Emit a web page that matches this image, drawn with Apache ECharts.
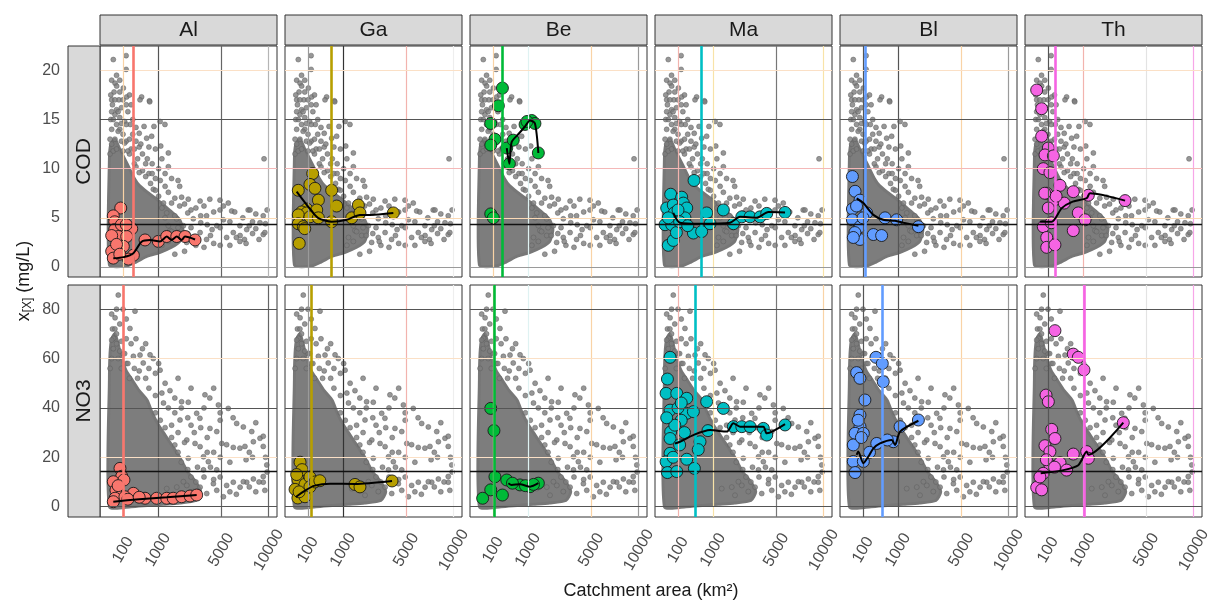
<!DOCTYPE html>
<html><head><meta charset="utf-8">
<script src="https://cdn.jsdelivr.net/npm/echarts@6/dist/echarts.min.js"></script>
<style>html,body{margin:0;padding:0;background:#fff}#c{width:1209px;height:602px}</style>
</head><body><div id="c"></div>
<script>
// ---------------- DATA ----------------
const COLS = ['Al','Ga','Be','Ma','Bl','Th'];
const ROWS = ['COD','NO3'];
const COLORS = ['#F8766D','#B79F00','#00BA38','#00BFC4','#619CFF','#F564E3'];
const X_TICK_AREAS = [100,1000,5000,10000];
const X_TICK_LABELS = ['100','1000','5000','10000'];
const Y_TICKS_COD = [0,5,10,15,20];
const Y_TICKS_NO3 = [0,20,40,60,80];
const REF_COD = 4.35;
const REF_NO3 = 14.4;
const VLINE_COD = [268,605,250,586,125,206];
const VLINE_NO3 = [100,141,117,421,490,1050];

// dense core of the grey background cloud (area km², value)
const core_cod = [[2.6,0.2],[2.6,11],[6.25,12.5],[25,13],[64,12],[121,11],[196,10],[289,9],[400,8.3],[625,7.6],[900,7.0],[1225,6.3],[1600,5.6],[2025,4.8],[2209,3.8],[2025,2.6],[1600,2.0],[1089,1.5],[625,1.1],[324,0.5],[144,0.1]];
const core_no3 = [[2.6,0],[2.6,52],[4,62],[9,68],[25,70],[49,66],[81,60],[144,55],[256,51],[400,47],[625,43],[784,38],[1024,33],[1296,29],[1600,25],[2025,20],[2500,14],[3025,10],[3364,6],[3025,2.5],[2025,1.5],[1225,1],[625,0.5],[225,0]];

// scattered grey background points (area km², value)
const gray_cod = [[16,21.1],[142,21.5],[142,20.1],[9,19.0],[26,18.7],[37,18.4],[104,18.2],[151,17.3],[462,17.3],[692,16.9],[20,17.8],[56,17.0],[12,16.5],[81,16.2],[169,15.8],[25,15.5],[64,15.2],[121,14.8],[6,15.0],[210,14.5],[529,14.3],[847,14.3],[1082,14.8],[1289,14.5],[767,13.3],[605,13.1],[1109,12.3],[1444,11.6],[9428,11.0],[256,13.5],[324,12.8],[400,12.2],[225,12.0],[484,11.5],[625,11.0],[361,11.0],[784,10.5],[1024,10.0],[1296,9.5],[676,9.5],[1600,9.0],[900,9.0],[484,9.8],[324,10.2],[420,17.0],[702,16.8],[2025,8.2],[2530,6.9],[3318,6.7],[4045,6.9],[4886,5.8],[5944,5.7],[7621,5.8],[9332,5.2],[8949,4.5],[9332,3.3],[6757,4.2],[6100,3.5],[5476,3.0],[6757,2.6],[4610,4.2],[3318,3.5],[2852,3.0],[3795,2.8],[2237,4.2],[1858,4.9],[1369,5.5],[2852,4.9],[3795,5.2],[2430,2.5],[1866,3.2],[1521,3.7],[1225,6.5],[1024,7.2],[824,7.9],[1600,6.5],[2025,6.2],[7815,5.8],[9526,3.5],[6773,3.2],[7465,3.8],[2134,7.1],[5625,6.5],[4886,6.8],[1156,6.0],[1296,5.0],[1444,4.2],[1600,3.6],[1764,5.2],[1225,3.0],[1156,2.2],[1444,2.6],[1936,4.0],[2116,3.2],[900,7.8],[729,8.5],[576,9.2],[400,9.6],[289,10.5],[196,11.5],[144,12.8],[100,13.5],[64,14.0],[36,14.5],[9,14.0],[4,13.0],[5184,4.8],[8100,4.6],[4225,3.8],[3364,4.5],[2704,5.8],[7225,2.8],[8464,3.9],[3025,2.2],[4900,2.2],[3600,6.2],
  [2500,5.5],[2704,4.0],[3025,6.0],[3364,5.2],[3844,4.3],[4096,3.2],[4356,5.6],[4900,4.0],[5184,6.2],[5776,4.6],[6241,5.6],[6400,3.0],[7056,5.0],[7396,2.4],[7744,4.2],[8100,3.4],[8464,5.4],[8836,2.8],[9604,4.4],[9801,5.8],[2304,6.4],[2500,3.4],[2916,2.6],[3600,2.0],[4356,2.4],[5776,2.2],[2304,1.6],[1764,1.3],[1444,7.6],[1764,7.0],[1936,8.8],[1296,8.2],[1089,8.8],[784,9.5],[576,10.5],[441,12.5],[289,12.0],[196,13.0],[144,14.5],[36,16.0],[9,17.0],[100,17.0],[225,16.5],[64,19.0],[900,12.0],[1156,11.0],[1444,10.2],[676,12.2],
  [4,11.5],[9,12.5],[16,11.8],[25,13.0],[36,12.0],[49,13.8],[81,12.8],[100,11.8],[121,12.6],[169,11.8],[16,15.0],[49,15.8],[9,15.8],[81,14.6],[144,16.5],[25,17.0],[6,17.5],[64,17.8],[36,19.5],[196,17.5],[256,15.0],[324,14.2],[400,13.6]];
const gray_no3 = [[50,85.7],[303,79.2],[26,76.5],[204,72.2],[17,68.2],[9,67.5],[269,60.9],[506,58.2],[420,61.4],[713,61.5],[824,60.0],[1082,55.3],[1521,47.0],[1156,46.0],[2134,42.5],[2530,42.3],[3672,45.3],[4045,44.0],[4747,41.2],[5625,39.8],[3080,37.8],[3306,35.8],[2043,35.1],[4058,31.7],[4610,30.4],[6432,33.7],[7106,32.3],[8010,30.4],[8949,27.7],[9332,24.4],[9332,28.5],[5476,25.1],[6100,24.0],[6757,23.7],[7276,24.4],[8190,26.3],[5041,25.6],[2440,27.0],[2970,25.6],[3318,24.3],[3564,20.2],[3931,18.2],[3564,14.9],[9761,16.9],[4610,14.9],[2530,19.6],[1369,7.3],[1866,7.9],[2440,8.6],[3318,7.9],[4330,9.3],[5476,8.6],[6100,9.9],[7465,9.9],[8190,11.2],[9332,9.9],[9526,6.6],[6773,7.9],[4610,6.6],[3807,5.3],[2043,4.6],[2852,6.1],[2237,10.1],[7106,10.1],[9332,12.2],[900,38],[1089,35],[1296,32],[1600,28],[1764,25],[1936,22],[2116,18],[2500,15],[2704,12],[3025,10],[1444,40],[1764,38],[1225,42],[900,45],[676,48],[576,52],[400,55],[1936,30],[2304,26],[1600,33],[100,62],[144,58],[64,63],[36,70],[12,72],[81,67],[4900,35],[3600,40],[2704,33],[7744,22],
  [3136,16],[3600,12],[4096,16],[4356,11],[4900,12],[5184,4],[5776,6],[6400,5],[7744,8],[8464,6],[8836,10],[9801,14],[3844,28],[4356,22],[4900,20],[5776,18],[7396,19],[8100,20],[2916,30],[3364,32],[2500,36],[2116,40],[1764,44],[1296,50],[900,54],[676,56],[1024,58],[484,64],[324,68],[144,76],[100,80],[576,66],[4900,38],[6084,36],[8464,34],[2704,48],[1936,52],[4356,48],[9604,20],[3844,22],
  [4,56],[9,60],[16,64],[25,72],[36,66],[49,60],[64,74],[81,56],[121,62],[169,58],[225,66],[289,56],[9,78],[36,80],[144,68],[361,52],[196,52]];

// coloured points and fitted lines per panel (area km², value)
const al_cod_pts = [[74,6.0],[16,5.2],[24,4.6],[24,3.8],[151,3.6],[237,3.9],[50,3.1],[151,3.1],[9,1.6],[104,2.1],[16,0.9],[269,1.2],[557,2.75],[1011,2.6],[1369,3.1],[1866,3.1],[2333,3.1],[2970,2.75],[9,3.2],[81,4.3],[177,0.8],[36,2.3],[64,1.3],[144,4.3]];
const al_cod_fit = [[16,0.88],[108,1.0],[269,1.4],[462,2.57],[713,2.75],[1076,2.58],[1369,3.1],[1600,2.75],[1866,3.1],[2134,2.75],[2333,3.1],[2970,2.8]];
const ga_cod_pts = [[16,7.8],[166,9.5],[125,8.4],[204,8.0],[605,7.8],[269,6.8],[767,6.2],[1689,6.3],[85,5.9],[237,5.8],[37,5.6],[85,5.5],[16,5.3],[125,5.1],[16,4.4],[50,4.1],[269,5.0],[1369,5.0],[1772,5.5],[21,2.4],[3931,5.5],[605,4.6],[64,3.9]];
const ga_cod_fit = [[9,7.66],[125,5.9],[269,4.97],[605,4.6],[1149,4.8],[1772,5.3],[2333,5.3],[3931,5.5]];
const be_cod_pts = [[250,18.2],[177,16.4],[74,14.6],[125,13.0],[74,12.4],[342,12.1],[506,12.9],[404,10.5],[888,14.5],[1149,14.9],[1289,14.6],[1444,11.6],[74,5.4],[104,5.0],[961,14.8]];
const be_cod_fit = [[342,12.1],[404,10.5],[462,12.7],[655,13.5],[888,14.3],[1076,14.9],[1289,14.6],[1444,11.6]];
const ma_cod_pts = [[396,8.8],[30,7.4],[151,7.1],[9,6.0],[50,6.3],[177,6.5],[237,6.0],[59,5.5],[204,5.0],[767,5.5],[1444,5.8],[4,4.3],[37,4.3],[380,3.45],[605,3.6],[16,2.2],[50,2.7],[888,4.4],[1954,4.4],[2440,5.1],[2970,5.1],[3684,5.1],[4199,5.45],[5791,5.55],[100,5.8],[81,3.5],[121,4.6],[16,5.0],[256,4.2]];
const ma_cod_fit = [[50,5.5],[125,4.5],[557,4.4],[1772,4.5],[2333,5.1],[3434,5.0],[4330,5.6],[5791,5.55]];
const bl_cod_pts = [[12,9.2],[26,7.7],[66,6.8],[12,5.9],[151,5.5],[12,4.8],[66,4.1],[66,2.8],[269,3.3],[462,3.2],[557,5.0],[949,4.8],[1954,4.1],[25,3.5],[36,6.2],[100,5.0],[16,3.0]];
const bl_cod_fit = [[37,6.97],[104,6.5],[269,5.3],[506,4.8],[888,4.7],[1225,4.5],[1954,4.2]];
const th_cod_pts = [[9,18.0],[37,16.1],[37,13.3],[104,12.1],[66,11.4],[177,11.3],[50,10.0],[125,9.6],[303,8.3],[85,7.5],[188,6.8],[655,7.66],[1218,7.3],[104,6.0],[824,5.5],[1082,4.8],[50,4.1],[655,3.7],[85,3.0],[85,2.0],[204,2.25],[3318,6.75],[400,6.5],[225,7.2],[144,4.5],[64,7.5]];
const th_cod_fit = [[26,4.6],[151,4.6],[342,5.99],[605,6.6],[1149,7.0],[1289,7.5],[3318,6.75]];

const al_no3_pts = [[66,15.5],[85,12.3],[16,10.1],[112,10.8],[32,6.7],[26,3.4],[16,2.0],[269,5.4],[125,4.0],[557,3.4],[949,3.4],[1369,3.4],[1681,3.4],[2134,4.0],[2642,4.3],[3080,4.7],[49,8.5],[169,3.0],[400,3.8]];
const al_no3_fit = [[16,2.0],[400,3.0],[1369,3.8],[3080,4.7]];
const ga_no3_pts = [[26,18],[40,15],[14,11],[4,7],[66,9],[125,12],[40,5],[125,8],[204,10],[300,10.5],[1521,9],[1772,8],[3830,10.4],[14,3.5],[66,4],[20,6],[9,13]];
const ga_no3_fit = [[6,3.9],[66,6.5],[200,8.5],[557,9.3],[1521,9.2],[3830,10.4]];
const be_no3_pts = [[74,39.8],[112,30.8],[125,12.1],[74,6.8],[13,3.4],[250,4.7],[342,10.8],[713,8.8],[1082,8.1],[1444,9.5],[484,9.5],[900,8.5],[1225,9.0]];
const be_no3_fit = [[380,9.5],[462,8.8],[713,9.1],[1082,8.1],[1444,9.5]];
const ma_no3_pts = [[26,60.5],[12,51.7],[7,45.9],[85,45.9],[237,43.9],[767,42.5],[26,39.1],[237,37.8],[380,38.5],[1444,39.8],[30,30.3],[26,27.6],[557,26.3],[26,21.6],[506,23.1],[237,19.2],[7,18.2],[404,15.5],[12,13.8],[85,14.2],[812,30.8],[1954,32.4],[2440,32.4],[2970,32.4],[3931,31.7],[4199,29.0],[5791,33.1],[100,40],[144,35],[64,33],[196,30],[121,25],[49,20],[144,42],[9,36]];
const ma_no3_fit = [[66,25.6],[125,26.3],[380,29],[888,31],[1608,30.4],[1954,33.8],[2333,32.4],[3931,32.4],[4199,29.7],[5791,33.4]];
const bl_no3_pts = [[324,60.5],[480,58],[506,50.6],[37,54.3],[66,52],[125,43.2],[66,37.1],[66,32.4],[26,29.7],[104,29.7],[16,25],[342,25.6],[824,26.3],[1082,32.4],[1954,35.1],[16,18.3],[104,18.3],[26,13.8],[49,35],[81,28],[196,22],[625,27]];
const bl_no3_fit = [[37,21],[50,22.3],[104,17.6],[177,20.3],[269,23.6],[420,25.6],[767,27],[888,25],[1082,30.4],[1954,34.8]];
const th_no3_pts = [[204,71.3],[655,61.8],[824,60.5],[1037,55.4],[77,45.2],[104,42.5],[151,31.3],[204,27.6],[66,24.7],[125,22.3],[655,21.3],[1149,22.3],[1218,19.6],[303,17.8],[125,16.8],[462,14.8],[50,13.5],[9,7.8],[37,6.8],[3192,34],[81,19],[196,16],[25,12]];
const th_no3_fit = [[30,13.5],[380,14.8],[824,16.8],[1149,22.3],[1218,21],[3192,34]];

// ---------------- STYLE / LAYOUT ----------------
const FONT = '"Liberation Sans", Arial, sans-serif';
const PANEL_LEFT0 = 100, PANEL_STEP = 185, PANEL_W = 177;
const ROW_TOP = [46, 285], ROW_H = [231, 232];
const X_RANGE = [-4.21, 105.1];          // sqrt(area) scale
const Y_RANGE = [[-1.02, 22.48], [-4.2, 89.8]];
const GRID_V = [
 [['#f9d3a6','#555555','#666666','#b5b5b5'],['#9a9a9a','#333333','#f2b3ae','#eeeeee'],['#f9d3a6','#dff2f2','#f9d3a6','#9a9a9a'],['#f2b3ae','#f8e3a8','#777777','#f8e3a8'],['#555555','#555555','#f9d3a6','#9a9a9a'],['#555555','#f2b3ae','#e3e3e3','#f7a6e8']],
 [['#f9d3a6','#555555','#666666','#666666'],['#9a9a9a','#333333','#f2b3ae','#eeeeee'],['#f9d3a6','#dff2f2','#f9d3a6','#9a9a9a'],['#f2b3ae','#f8e3a8','#777777','#f9d3a6'],['#555555','#555555','#f9d3a6','#9a9a9a'],['#555555','#f7a6e8','#e3e3e3','#f7a6e8']]
];
const GRID_H = [['#9a9a9a','#fbd9b5','#f4b8b8','#555555','#fbe0c6'], ['#555555','#fbe0c6','#555555','#fbe0c6','#555555']];

const PTS = [[al_cod_pts,ga_cod_pts,be_cod_pts,ma_cod_pts,bl_cod_pts,th_cod_pts],[al_no3_pts,ga_no3_pts,be_no3_pts,ma_no3_pts,bl_no3_pts,th_no3_pts]];
const FIT = [[al_cod_fit,ga_cod_fit,be_cod_fit,ma_cod_fit,bl_cod_fit,th_cod_fit],[al_no3_fit,ga_no3_fit,be_no3_fit,ma_no3_fit,bl_no3_fit,th_no3_fit]];
const GRAY = [gray_cod, gray_no3];
const CORE = [core_cod, core_no3];
const VLINE = [VLINE_COD, VLINE_NO3];
const REF = [REF_COD, REF_NO3];
const YTICKS = [Y_TICKS_COD, Y_TICKS_NO3];

const tr = p => [Math.sqrt(p[0]), p[1]];
const xTickS = X_TICK_AREAS.map(Math.sqrt);
const xLabel = v => { let k = 0, b = 1e9; xTickS.forEach((s,i)=>{ if (Math.abs(s-v) < b) { b = Math.abs(s-v); k = i; } }); return X_TICK_LABELS[k]; };

const grid = [], xAxis = [], yAxis = [], series = [], graphic = [];
for (let r = 0; r < 2; r++) {
  for (let c = 0; c < 6; c++) {
    const i = r*6 + c;
    grid.push({left: PANEL_LEFT0 + c*PANEL_STEP, top: ROW_TOP[r], width: PANEL_W, height: ROW_H[r],
      show: true, borderColor: '#333', borderWidth: 1, backgroundColor: '#fff', containLabel: false, outerBoundsMode: 'none'});
    xAxis.push({gridIndex: i, type: 'value', min: X_RANGE[0], max: X_RANGE[1],
      splitLine: {show: false}, axisLine: {show: false},
      axisTick: {show: r === 1, length: 4, customValues: xTickS, lineStyle: {color: '#333'}},
      axisLabel: {show: r === 1, customValues: xTickS, rotate: 60, align: 'center', verticalAlign: 'middle',
        margin: 33, fontSize: 16, fontFamily: FONT, color: '#4d4d4d', formatter: xLabel}});
    yAxis.push({gridIndex: i, type: 'value', min: Y_RANGE[r][0], max: Y_RANGE[r][1], offset: c === 0 ? 33 : 0,
      splitLine: {show: false}, axisLine: {show: false},
      axisTick: {show: c === 0, length: 4, customValues: YTICKS[r], lineStyle: {color: '#333'}},
      axisLabel: {show: c === 0, customValues: YTICKS[r], margin: 7, fontSize: 16, fontFamily: FONT, color: '#4d4d4d'}});

    // grid lines
    const gl = [];
    X_TICK_AREAS.forEach((a,k) => gl.push({xAxis: Math.sqrt(a), lineStyle: {color: GRID_V[r][c][k], width: 1.2, type: 'solid'}}));
    YTICKS[r].forEach((v,k) => gl.push({yAxis: v, lineStyle: {color: GRID_H[r][k], width: 1.2, type: 'solid'}}));
    series.push({type: 'scatter', xAxisIndex: i, yAxisIndex: i, data: [], silent: true, z: 1,
      markLine: {silent: true, symbol: ['none','none'], label: {show: false}, animation: false, data: gl}});

    // grey dense core
    const core = CORE[r];
    series.push({type: 'custom', xAxisIndex: i, yAxisIndex: i, silent: true, z: 2, data: [[0,0]],
      renderItem: (params, api) => {
        const pts = core.map(p => api.coord(tr(p)));
        return {type: 'polygon', shape: {points: pts, smooth: 0.2}, style: {fill: '#7d7d7d', stroke: '#777', lineWidth: 3}};
      }});
    // grey scattered points
    series.push({type: 'scatter', xAxisIndex: i, yAxisIndex: i, silent: true, z: 2, symbolSize: 5,
      itemStyle: {color: '#7d7d7d', borderColor: '#5c5c5c', borderWidth: 0.6},
      data: GRAY[r].map(tr)});

    // reference lines
    series.push({type: 'scatter', xAxisIndex: i, yAxisIndex: i, data: [], silent: true, z: 3,
      markLine: {silent: true, symbol: ['none','none'], label: {show: false}, animation: false,
        data: [{yAxis: REF[r], lineStyle: {color: '#111', width: 1.4, type: 'solid'}},
               {xAxis: Math.sqrt(VLINE[r][c]), lineStyle: {color: COLORS[c], width: 2.6, type: 'solid'}}]}});

    // coloured points
    series.push({type: 'scatter', xAxisIndex: i, yAxisIndex: i, silent: true, z: 4, symbolSize: 12,
      itemStyle: {color: COLORS[c], borderColor: '#1a1a1a', borderWidth: 0.9, opacity: 1},
      data: PTS[r][c].map(tr)});
    // fitted line
    series.push({type: 'line', xAxisIndex: i, yAxisIndex: i, silent: true, z: 5, showSymbol: false, smooth: 0.25,
      lineStyle: {color: '#000', width: 2}, data: FIT[r][c].map(tr)});
  }
}

// strips
for (let c = 0; c < 6; c++) {
  const x = PANEL_LEFT0 + c*PANEL_STEP;
  graphic.push({type: 'rect', shape: {x: x, y: 15, width: PANEL_W, height: 30}, style: {fill: '#d9d9d9', stroke: '#333', lineWidth: 1}, z: 10});
  graphic.push({type: 'text', x: x + PANEL_W/2, y: 30, style: {text: COLS[c], textAlign: 'center', textVerticalAlign: 'middle', font: '21px ' + FONT, fill: '#1a1a1a'}, z: 11});
}
for (let r = 0; r < 2; r++) {
  graphic.push({type: 'rect', shape: {x: 68, y: ROW_TOP[r], width: 32, height: ROW_H[r]}, style: {fill: '#d9d9d9', stroke: '#333', lineWidth: 1}, z: 10});
  graphic.push({type: 'text', x: 84, y: ROW_TOP[r] + ROW_H[r]/2, rotation: Math.PI/2,
    style: {text: ROWS[r], textAlign: 'center', textVerticalAlign: 'middle', font: '21px ' + FONT, fill: '#1a1a1a'}, z: 11});
}
graphic.push({type: 'text', x: 651, y: 591, style: {text: 'Catchment area (km²)', textAlign: 'center', textVerticalAlign: 'middle', font: '18px ' + FONT, fill: '#1a1a1a'}});
graphic.push({type: 'text', x: 24, y: 281, rotation: Math.PI/2,
  style: {text: '{a|x}{b|[X]}{a| (mg/L)}', textAlign: 'center', textVerticalAlign: 'middle',
    rich: {a: {fontSize: 18, fontFamily: FONT, fill: '#1a1a1a', color: '#1a1a1a'},
           b: {fontSize: 12, fontFamily: FONT, fill: '#1a1a1a', color: '#1a1a1a', padding: [8,0,0,0]}}}});

const chart = echarts.init(document.getElementById('c'), null, {renderer: 'canvas'});
chart.setOption({animation: false, backgroundColor: '#fff', grid, xAxis, yAxis, series, graphic});
</script></body></html>
